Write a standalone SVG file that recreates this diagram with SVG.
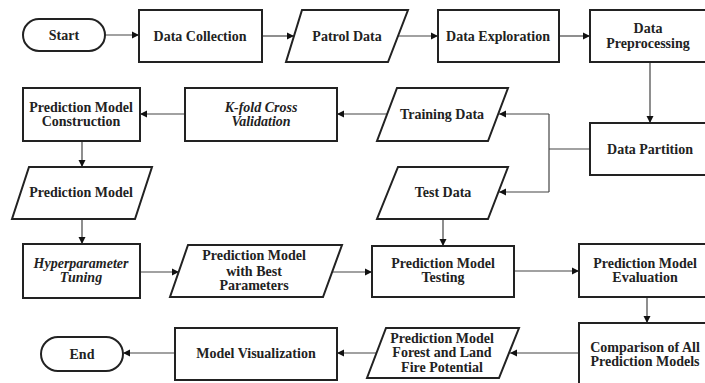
<svg xmlns="http://www.w3.org/2000/svg" width="705" height="383" viewBox="0 0 705 383">
<style>
.n{fill:#fff;stroke:#222;stroke-width:2}
.t{font-family:"Liberation Serif","Times New Roman",serif;font-weight:bold;font-size:14px;fill:#222;text-anchor:middle}
.i{font-style:italic}
.c{fill:none;stroke:#444;stroke-width:1.2}
</style>
<defs>
<marker id="a" markerUnits="userSpaceOnUse" markerWidth="8" markerHeight="8" refX="7" refY="4" orient="auto">
<path d="M0,0.5 L7,4 L0,7.5 z" fill="#111"/>
</marker>
</defs>
<rect width="705" height="383" fill="#fff"/>
<g id="connectors">
<path class="c" d="M105,35 H139" marker-end="url(#a)"/>
<path class="c" d="M262,36 H294" marker-end="url(#a)"/>
<path class="c" d="M398,36 H438" marker-end="url(#a)"/>
<path class="c" d="M559,36 H590" marker-end="url(#a)"/>
<path class="c" d="M650,62 V123" marker-end="url(#a)"/>
<path class="c" d="M590,149 H549 M549,114 V192"/>
<path class="c" d="M549,114 H499" marker-end="url(#a)"/>
<path class="c" d="M549,192 H499" marker-end="url(#a)"/>
<path class="c" d="M387,114 H337" marker-end="url(#a)"/>
<path class="c" d="M185,114 H140" marker-end="url(#a)"/>
<path class="c" d="M82,141 V167" marker-end="url(#a)"/>
<path class="c" d="M82,219 V244" marker-end="url(#a)"/>
<path class="c" d="M140,272 H179" marker-end="url(#a)"/>
<path class="c" d="M333,272 H372" marker-end="url(#a)"/>
<path class="c" d="M443,219 V246" marker-end="url(#a)"/>
<path class="c" d="M514,271 H579" marker-end="url(#a)"/>
<path class="c" d="M647,297 V323" marker-end="url(#a)"/>
<path class="c" d="M579,353 H510" marker-end="url(#a)"/>
<path class="c" d="M377,353 H337" marker-end="url(#a)"/>
<path class="c" d="M175,353 H123" marker-end="url(#a)"/>
</g>
<g id="start"><rect class="n" x="23" y="19" width="82" height="32" rx="16"/><text class="t" x="64" y="40">Start</text></g>
<g id="data-collection"><rect class="n" x="139" y="10" width="123" height="52"/><text class="t" x="200" y="41">Data Collection</text></g>
<g id="patrol-data"><polygon class="n" points="302,10 408,10 388,62 286,62"/><text class="t" x="347" y="41">Patrol Data</text></g>
<g id="data-exploration"><rect class="n" x="438" y="10" width="121" height="52"/><text class="t" x="498" y="41">Data Exploration</text></g>
<g id="data-preprocessing"><rect class="n" x="590" y="10" width="116" height="52"/><text class="t" x="648" y="33">Data</text><text class="t" x="648" y="48">Preprocessing</text></g>
<g id="data-partition"><rect class="n" x="590" y="123" width="116" height="52"/><text class="t" x="650" y="154">Data Partition</text></g>
<g id="training-data"><polygon class="n" points="397,88 508,88 488,141 377,141"/><text class="t" x="442" y="119">Training Data</text></g>
<g id="kfold"><rect class="n" x="185" y="88" width="152" height="53"/><text class="t i" x="261" y="112">K-fold Cross</text><text class="t i" x="261" y="126">Validation</text></g>
<g id="pm-construction"><rect class="n" x="23" y="88" width="117" height="53"/><text class="t" x="81" y="112">Prediction Model</text><text class="t" x="81" y="126">Construction</text></g>
<g id="prediction-model"><polygon class="n" points="29,167 152,167 135,219 12,219"/><text class="t" x="81" y="197">Prediction Model</text></g>
<g id="test-data"><polygon class="n" points="398,167 508,167 488,219 377,219"/><text class="t" x="443" y="197">Test Data</text></g>
<g id="hyperparameter"><rect class="n" x="23" y="244" width="117" height="54"/><text class="t i" x="81" y="268">Hyperparameter</text><text class="t i" x="81" y="282">Tuning</text></g>
<g id="pm-best"><polygon class="n" points="188,245 342,245 323,297 170,297"/><text class="t" x="254" y="260">Prediction Model</text><text class="t" x="254" y="276">with Best</text><text class="t" x="254" y="290">Parameters</text></g>
<g id="pm-testing"><rect class="n" x="372" y="246" width="142" height="51"/><text class="t" x="443" y="268">Prediction Model</text><text class="t" x="443" y="282">Testing</text></g>
<g id="pm-evaluation"><rect class="n" x="579" y="244" width="132" height="53"/><text class="t" x="645" y="268">Prediction Model</text><text class="t" x="645" y="282">Evaluation</text></g>
<g id="comparison"><rect class="n" x="579" y="323" width="132" height="70"/><text class="t" x="645" y="352">Comparison of All</text><text class="t" x="645" y="366">Prediction Models</text></g>
<g id="pm-forest"><polygon class="n" points="386,328 519,328 499,378 367,378"/><text class="t" x="442" y="343">Prediction Model</text><text class="t" x="442" y="357">Forest and Land</text><text class="t" x="442" y="372">Fire Potential</text></g>
<g id="model-visualization"><rect class="n" x="175" y="328" width="162" height="52"/><text class="t" x="256" y="358">Model Visualization</text></g>
<g id="end"><rect class="n" x="41" y="337" width="82" height="34" rx="17"/><text class="t" x="82" y="359">End</text></g>
</svg>
